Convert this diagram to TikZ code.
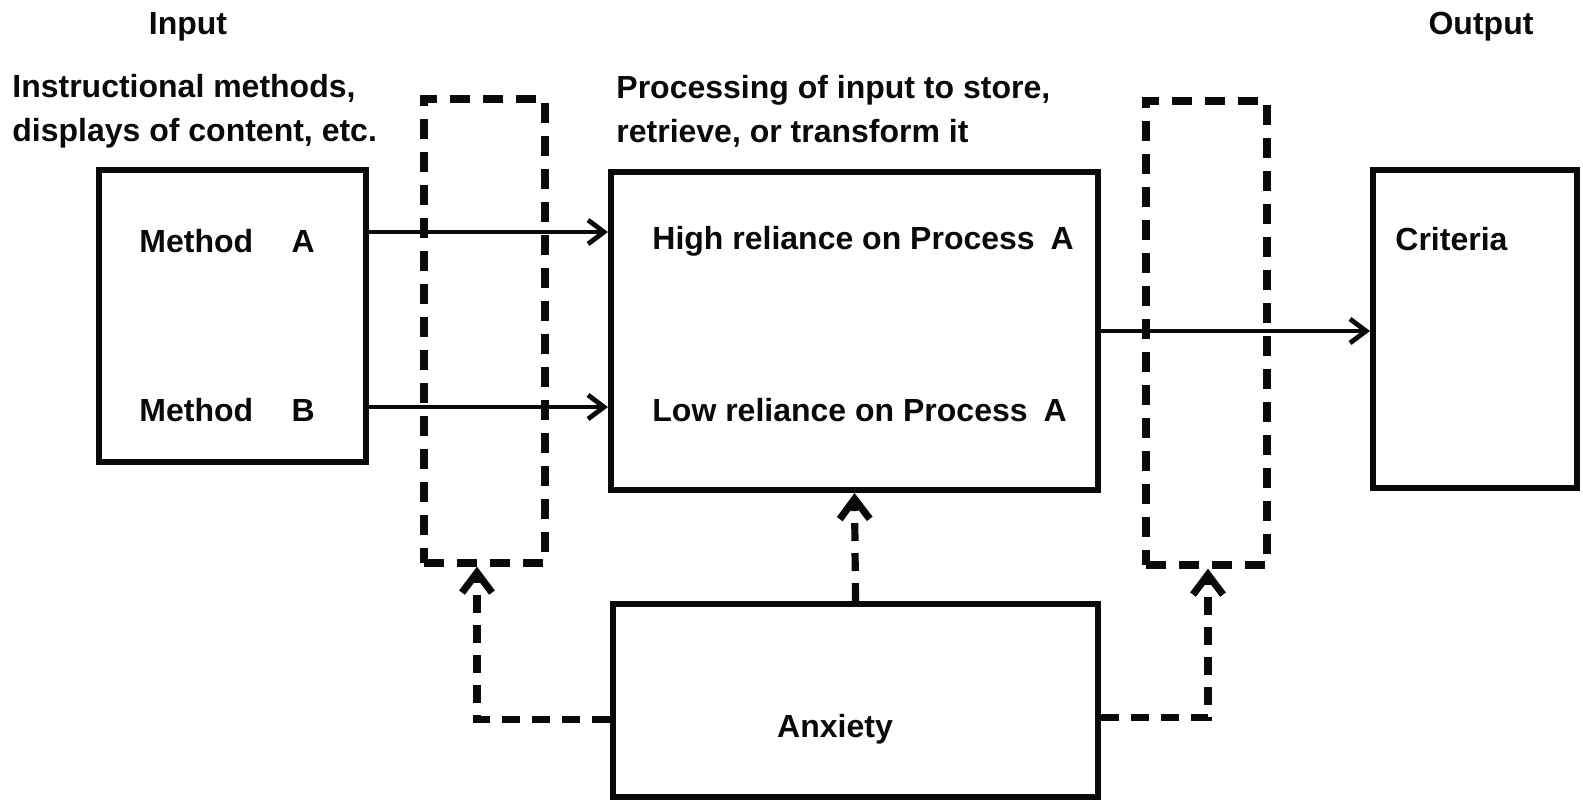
\documentclass[tikz,border=0pt]{standalone}
\usepackage{fontspec}
\setmainfont{Liberation Sans}
\usepackage{tikz}
\usetikzlibrary{positioning, arrows.meta}
\definecolor{inkblack}{HTML}{0A0A0A}

\tikzset{
  stage/.style={draw=inkblack, line width=3pt, inner sep=0pt},
  gate/.style={draw=inkblack, line width=3.6pt, dash pattern=on 10pt off 6.5pt, inner sep=0pt},
  caption/.style={font=\fontsize{16}{22}\selectfont\bfseries, text=inkblack, inner sep=0pt},
  flow/.style={draw=inkblack, line width=2.4pt, -{Straight Barb[length=8pt, width=12pt]}},
  feedback/.style={draw=inkblack, line width=3.6pt, dash pattern=on 9pt off 6pt,
                   -{Straight Barb[length=10pt, width=15pt]}}
}

\begin{document}
\begin{tikzpicture}[x=0.5pt, y=-0.5pt]
    \useasboundingbox (0,0) rectangle (1583,799);

    % headings
    \node[caption] (input) at (188,27) {Input};
    \node[caption] (output) at (1481,27) {Output};
    \node[caption, align=left, anchor=west] (methodsnote) at (12,111)
      {Instructional methods,\\displays of content, etc.};
    \node[caption, align=left, anchor=west] (processnote) at (616,111)
      {Processing of input to store,\\retrieve, or transform it};

    % boxes
    \node[stage, minimum width=133.5pt, minimum height=146pt] (methods) at (232.5,316) {};
    \node[stage, minimum width=243.5pt, minimum height=159pt] (process) at (854.5,331) {};
    \node[stage, minimum width=102pt, minimum height=159pt] (criteria) at (1475,329) {};
    \node[stage, minimum width=242.5pt, minimum height=96.5pt] (anxiety) at (855.5,700.5) {};
    \node[gate, minimum width=60.5pt, minimum height=232pt] (leftgate) at (484.5,331) {};
    \node[gate, minimum width=60.5pt, minimum height=232pt] (rightgate) at (1206.5,333) {};

    % texts inside the boxes
    \node[caption, anchor=west] (methA) at (139,241) {Method\hspace{1.2em}A};
    \node[caption, anchor=west] (methB) at (139,410) {Method\hspace{1.2em}B};
    \node[caption, anchor=west] (high) at (652,241) {High reliance on Process\hspace{0.5em}A};
    \node[caption, anchor=west] (low) at (652,410) {Low reliance on Process\hspace{0.5em}A};
    \node[caption, anchor=west] (crit) at (1395,239) {Criteria};
    \node[caption] (anx) at (835,729) {Anxiety};

    % input to processing to output
    \coordinate (rowA) at (0,232);
    \coordinate (rowB) at (0,407);
    \draw[flow] (methods.east |- rowA) -- (process.west |- rowA);
    \draw[flow] (methods.east |- rowB) -- (process.west |- rowB);
    \draw[flow] (process.east) -- (process.east -| criteria.west);

    % anxiety acts on the stages
    \draw[feedback] (anxiety.north) -- (process.south);
    \draw[feedback] ([yshift=-9.5pt]anxiety.west) -| ([xshift=-3.75pt]leftgate.south);
    \draw[feedback] ([yshift=-8.5pt]anxiety.east) -| ([xshift=0.75pt]rightgate.south);
\end{tikzpicture}
\end{document}
